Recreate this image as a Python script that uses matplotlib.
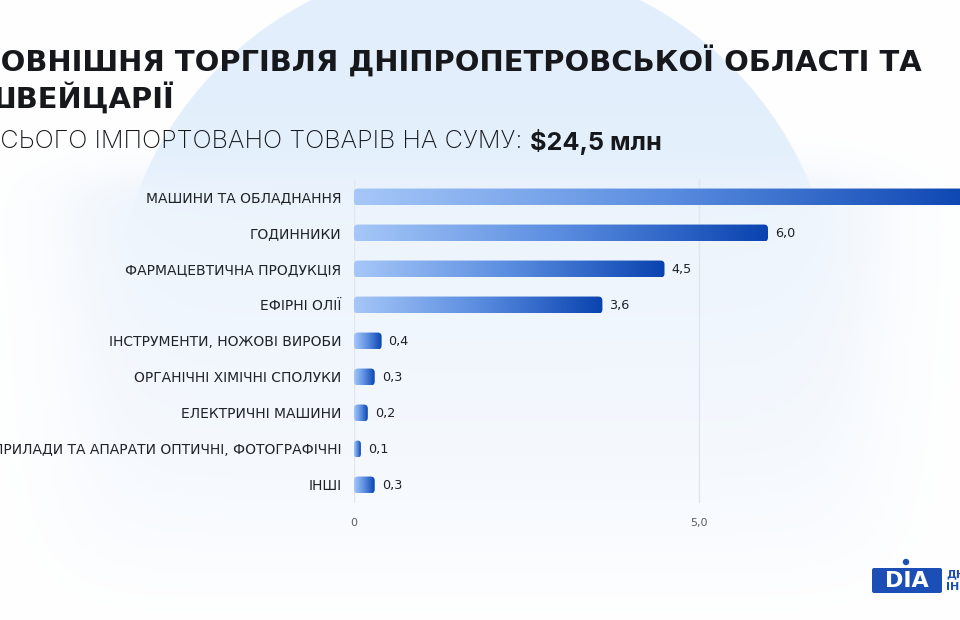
import numpy as np
import matplotlib
matplotlib.use("Agg")
import matplotlib.pyplot as plt
from matplotlib.patches import FancyBboxPatch, Circle
from matplotlib.colors import LinearSegmentedColormap

# ---------------- data ----------------
categories = [
    "МАШИНИ ТА ОБЛАДНАННЯ",
    "ГОДИННИКИ",
    "ФАРМАЦЕВТИЧНА ПРОДУКЦІЯ",
    "ЕФІРНІ ОЛІЇ",
    "ІНСТРУМЕНТИ, НОЖОВІ ВИРОБИ",
    "ОРГАНІЧНІ ХІМІЧНІ СПОЛУКИ",
    "ЕЛЕКТРИЧНІ МАШИНИ",
    "ПРИЛАДИ ТА АПАРАТИ ОПТИЧНІ, ФОТОГРАФІЧНІ",
    "ІНШІ",
]
values = [9.1, 6.0, 4.5, 3.6, 0.4, 0.3, 0.2, 0.1, 0.3]
xticks = [0, 5]
xtick_labels = ["0", "5,0"]
title_lines = ["ЗОВНІШНЯ ТОРГІВЛЯ ДНІПРОПЕТРОВСЬКОЇ ОБЛАСТІ ТА", "ШВЕЙЦАРІЇ"]
subtitle_regular = "ВСЬОГО ІМПОРТОВАНО ТОВАРІВ НА СУМУ: "
subtitle_bold = "\\$24,5 млн"

def fmt(v):
    return f"{v:.1f}".replace(".", ",")

W, H = 960, 620
fig = plt.figure(figsize=(W / 100, H / 100), dpi=100)
fig.patch.set_facecolor("white")

# ---------------- background ----------------
yy, xx = np.mgrid[0:H, 0:W].astype(float)
sig = lambda z: 1 / (1 + np.exp(-z))
img = np.ones((H, W, 3))
blue_bg = np.array([0.890, 0.937, 0.988])
d = np.sqrt((xx - 475) ** 2 + (yy - 322) ** 2)
a_circ = np.clip((362 - d) / 1.5 + 0.5, 0, 1)
img = img * (1 - a_circ[..., None]) + blue_bg * a_circ[..., None]
# soft pale card covering the chart area
card_top = np.array([0.925, 0.955, 0.99])
card_bot = np.array([0.965, 0.978, 0.996])
t = np.clip((yy - 180) / 320, 0, 1)[..., None]
card_col = card_top * (1 - t) + card_bot * t
cx = sig((xx - 70) / 30) * sig((875 - xx) / 30)
cyb = sig((555 - yy) / 28)
c_a = (cx * cyb)[..., None]
under = c_a * card_col + (1 - c_a) * 1.0
m = sig((yy - 175) / 14)[..., None]
img = img * (1 - m) + under * m

bg = fig.add_axes([0, 0, 1, 1], zorder=-10)
bg.imshow(img, extent=[0, W, H, 0], aspect="auto", interpolation="bilinear")
bg.set_xlim(0, W)
bg.set_ylim(H, 0)
bg.axis("off")

# ---------------- main axes ----------------
px_per_unit = 69.0
ax_left, ax_top, ax_bot = 354, 179, 503
ax = fig.add_axes([ax_left / W, (H - ax_bot) / H, 10 * px_per_unit / W, (ax_bot - ax_top) / H])
ax.patch.set_alpha(0)
ypos = np.arange(len(categories))
bar_h = 0.47
bars = ax.barh(ypos, values, height=bar_h, color="none", edgecolor="none")

cmap = LinearSegmentedColormap.from_list("g", ["#a6c7f8", "#5a8de0", "#0a43b0"])
grad = np.linspace(0, 1, 256).reshape(1, -1)
row_px = (ax_bot - ax_top) / len(categories)
for b in bars:
    x0, y0, w, h = b.get_x(), b.get_y(), b.get_width(), b.get_height()
    r = min(4.0 / px_per_unit, w / 2)
    asp = (4.0 / row_px) / (4.0 / px_per_unit)
    patch = FancyBboxPatch((x0, y0), w, h, boxstyle=f"round,pad=0,rounding_size={r}",
                           mutation_aspect=asp, facecolor="none", edgecolor="none",
                           transform=ax.transData)
    ax.add_patch(patch)
    im = ax.imshow(grad, extent=[x0, x0 + w, y0 + h, y0], cmap=cmap, aspect="auto",
                   interpolation="bilinear", zorder=3)
    im.set_clip_path(patch)

visible_max = (W - ax_left) / px_per_unit
for i, v in enumerate(values):
    if v + 0.5 > visible_max:
        continue  # label lies beyond the visible canvas, as in the original crop
    ax.annotate(fmt(v), (v, i), xytext=(5, 0), textcoords="offset points",
                va="center", ha="left", fontsize=9.2, color="#1f2328",
                family="DejaVu Sans", zorder=4)

ax.set_xlim(0, 10)
ax.set_ylim(len(categories) - 0.5, -0.5)
ax.set_yticks(ypos)
ax.set_yticklabels(categories, fontsize=10, color="#1f2328", family="DejaVu Sans")
ax.set_xticks(xticks)
ax.set_xticklabels(xtick_labels, fontsize=8, color="#5a5f66", family="DejaVu Sans")
ax.tick_params(axis="both", length=0)
ax.tick_params(axis="y", pad=9)
ax.tick_params(axis="x", pad=11)
for s in ax.spines.values():
    s.set_visible(False)
ax.set_axisbelow(True)
ax.xaxis.grid(True, color="#e1e7ef", linewidth=1)

# ---------------- titles ----------------
fig.canvas.draw()
renderer = fig.canvas.get_renderer()

def fx(px):
    return px / W

def fy(py):
    return 1 - py / H

t1 = fig.text(fx(-20), fy(62), title_lines[0], fontsize=20, fontweight="bold",
              family="DejaVu Sans", color="#16181c", ha="left", va="center")
wpx = t1.get_window_extent(renderer).width
fs = 20 * (937 / wpx)
t1.set_fontsize(fs)
fig.text(fx(-20), fy(99), title_lines[1], fontsize=fs, fontweight="bold",
         family="DejaVu Sans", color="#16181c", ha="left", va="center")

s1 = fig.text(fx(-16), fy(142), subtitle_regular, fontsize=15, fontweight="light",
              family=["Inter", "DejaVu Sans"], color="#16181c", ha="left", va="center")
s2 = fig.text(0, fy(142), subtitle_bold, fontsize=15, fontweight="bold",
              family=["Inter", "DejaVu Sans"], color="#16181c", ha="left", va="center")
fig.canvas.draw()
w1 = s1.get_window_extent(renderer).width
w2 = s2.get_window_extent(renderer).width
sc = 675 / (w1 + w2)
s1.set_fontsize(15 * sc)
s2.set_fontsize(15 * sc)
fig.canvas.draw()
e1 = s1.get_window_extent(renderer)
s2.set_x(fx(e1.x1))

# ---------------- logo ----------------
lax = fig.add_axes([0, 0, 1, 1], zorder=5)
lax.set_xlim(0, W)
lax.set_ylim(H, 0)
lax.axis("off")
logo_blue = "#1c4fb6"
lax.add_patch(FancyBboxPatch((872, 568), 70, 25, boxstyle="round,pad=0,rounding_size=2",
                             facecolor=logo_blue, edgecolor="none"))
lax.text(907, 581, "DIA", color="white", fontsize=16, fontweight="heavy",
         family="DejaVu Sans", ha="center", va="center")
lax.add_patch(Circle((906, 562), 3.2, facecolor=logo_blue, edgecolor="none"))
lax.text(946, 574, "ДНІПРО", color=logo_blue, fontsize=8, fontweight="bold",
         family="DejaVu Sans", ha="left", va="center")
lax.text(946, 587, "ІНВЕСТ", color=logo_blue, fontsize=8, fontweight="bold",
         family="DejaVu Sans", ha="left", va="center")

fig.savefig("out.png", dpi=100)
